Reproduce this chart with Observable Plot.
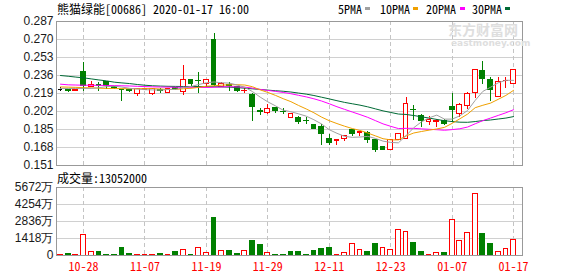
<!DOCTYPE html>
<html><head><meta charset="utf-8">
<script src="https://cdn.jsdelivr.net/npm/d3@7"></script>
<script src="https://cdn.jsdelivr.net/npm/@observablehq/plot@0.6"></script>
<style>
body{margin:0;background:#fff;}
#wrap{position:relative;width:578px;height:276px;overflow:hidden;background:#fff;}
.t{position:absolute;font-family:"Noto Sans Mono CJK SC","Liberation Mono",monospace;font-size:12px;line-height:12px;color:#000;white-space:nowrap;}
.sw{position:absolute;width:5px;height:3px;}
.wm{position:absolute;color:#dedede;font-weight:bold;white-space:nowrap;font-family:"Noto Sans CJK SC",sans-serif;}
svg{position:absolute;left:0;}
</style></head><body><div id="wrap"></div><script>
const dates = ["10-23","10-24","10-25","10-28","10-29","10-30","10-31","11-01","11-04","11-05","11-06","11-07","11-08","11-11","11-12","11-13","11-14","11-15","11-18","11-19","11-20","11-21","11-22","11-25","11-26","11-27","11-28","11-29","12-02","12-03","12-04","12-05","12-06","12-09","12-10","12-11","12-12","12-13","12-16","12-17","12-18","12-19","12-20","12-23","12-24","12-27","12-30","12-31","01-02","01-03","01-06","01-07","01-08","01-09","01-10","01-13","01-14","01-15","01-16","01-17"];
const open  = [.223,.2225,.2215,.239,.2248,.227,.230,.2255,.2225,.2225,.219,.2225,.219,.2222,.2198,.224,.2205,.232,.231,.2284,.270,.225,.2275,.2247,.221,.2175,.2025,.2007,.2054,.2018,.1955,.1955,.1932,.1897,.1875,.1765,.1745,.1757,.185,.182,.182,.175,.1685,.166,.175,.1757,.2035,.1975,.1918,.1918,.193,.2065,.200,.207,.2195,.2405,.2315,.216,.2305,.228];
const high  = [.2245,.2225,.2225,.248,.230,.229,.230,.226,.223,.223,.223,.2235,.2233,.224,.224,.2245,.2457,.232,.239,.2325,.276,.229,.229,.225,.224,.219,.205,.209,.2055,.2045,.1995,.197,.1965,.1897,.1895,.180,.1752,.179,.185,.1825,.1835,.175,.1685,.175,.1805,.215,.2075,.199,.1975,.1945,.1945,.219,.210,.220,.2415,.249,.234,.2345,.2345,.241];
const low   = [.2205,.2195,.2215,.221,.2245,.221,.223,.223,.211,.220,.216,.222,.2174,.219,.219,.2215,.217,.226,.219,.225,.226,.2245,.2205,.220,.219,.193,.1985,.1995,.200,.1995,.195,.190,.190,.1855,.170,.170,.170,.1735,.1785,.178,.172,.163,.1655,.165,.175,.1757,.1935,.1865,.189,.1865,.189,.192,.196,.2035,.2145,.2275,.211,.216,.224,.228];
const close = [.223,.221,.2225,.226,.227,.2265,.226,.2245,.222,.221,.223,.223,.223,.2215,.2237,.223,.232,.2284,.2305,.2322,.2268,.228,.2265,.2215,.2215,.2065,.202,.2042,.2023,.2013,.1995,.1922,.1928,.1855,.181,.1725,.175,.1787,.181,.1825,.1755,.1655,.1655,.175,.1805,.2095,.203,.193,.194,.1935,.1905,.203,.2085,.219,.2415,.233,.2225,.2295,.231,.241];
const ma5  = [.2237,.2237,.2237,.2238,.2238,.2245,.2255,.2259,.2251,.2239,.2232,.2226,.2224,.2222,.2228,.2228,.2246,.2256,.2275,.2291,.2299,.2291,.2288,.227,.2249,.2208,.2156,.2111,.2073,.2032,.2018,.1998,.1976,.1942,.1902,.1848,.1814,.1785,.1776,.1779,.1785,.1766,.174,.1728,.1724,.1792,.1867,.1922,.196,.1986,.1948,.1948,.1979,.2029,.2125,.221,.2249,.2291,.2315,.2314];
const ma10 = [.2252,.2250,.2248,.2245,.2243,.2240,.2238,.2237,.2236,.2235,.2235,.2236,.2237,.2232,.2229,.2229,.2235,.2239,.2248,.2259,.2263,.2269,.2272,.2273,.2270,.2254,.2224,.2200,.2172,.2141,.2113,.2077,.2044,.2008,.1967,.1933,.1906,.1881,.1859,.1841,.1817,.1790,.1763,.1752,.1752,.1789,.1817,.1831,.1844,.1855,.1870,.1908,.1951,.1995,.2056,.2079,.2099,.2135,.2172,.2220];
const ma20 = [.2278,.2272,.2270,.2268,.2268,.2267,.2266,.2265,.2263,.2261,.2258,.2255,.2253,.2251,.2250,.2249,.2249,.2248,.2247,.2247,.2249,.2252,.2255,.2252,.2250,.2241,.2229,.2219,.2210,.2200,.2188,.2173,.2158,.2140,.2119,.2093,.2065,.2040,.2015,.1991,.1965,.1934,.1903,.1880,.1859,.1861,.1861,.1856,.1852,.1848,.1843,.1849,.1857,.1873,.1904,.1934,.1958,.1983,.2008,.2037];
const ma30 = [.2360,.2353,.2345,.2338,.2328,.2318,.2309,.2297,.2290,.2284,.2275,.2268,.2263,.2260,.2258,.2257,.2256,.2256,.2256,.2255,.2254,.2252,.2250,.2246,.2240,.2234,.2228,.2222,.2216,.2211,.2204,.2194,.2184,.2171,.2155,.2139,.2122,.2106,.2093,.2080,.2064,.2045,.2026,.2011,.1996,.1992,.1982,.1970,.1958,.1945,.1933,.1925,.1919,.1918,.1925,.1934,.1940,.1949,.1958,.1972];
// volume in 万 shares; 1 = up (red hollow), 0 = down (green)
const vol = [54,134,54,1695,323,323,81,81,646,161,54,54,54,161,54,323,484,81,619,242,3147,404,404,161,404,1210,888,242,81,81,323,323,81,404,565,646,54,242,968,484,323,968,633,457,2152,1991,1049,323,54,215,242,2959,1184,1910,5138,1775,968,296,538,1305.2];
const volUp = [1,0,1,1,1,0,0,0,0,0, 1,1,1,0,1,0,1,0,1,1, 0,1,0,0,1,0,0,1,0,0, 0,0,0,0,0,0,1,1,1,1, 0,0,1,1,1,1,0,0,1,1, 0,1,1,1,1,0,0,1,1,1];
const xTickLabels = ["10-28","11-07","11-19","11-29","12-11","12-23","01-07","01-17"];
const priceTicks = [0.151,0.168,0.185,0.202,0.219,0.236,0.253,0.270,0.287];
const volTicks = [0,1418,2836,4254,5672];
const maNames = ["5PMA","10PMA","20PMA","30PMA"];
const maColors = ["#a0a0a0","#f0a000","#ff00ff","#006a35"];

const RED = "#ff0000", GREEN = "#008000";
const idx = d3.range(dates.length);
const candles = idx.map(i => ({i, o: open[i], h: high[i], l: low[i], c: close[i]}));
const col = d => d.c > d.o ? RED : d.c < d.o ? GREEN : "#000";
const tickIdx = xTickLabels.map(t => dates.indexOf(t));
const xDomain = [-0.52, 60.16];
const W = 0.31;
const lineData = [ma5, ma10, ma20, ma30].map((arr, k) => idx.map(i => ({i, v: arr[i], k})));
const tickFont = "Liberation Sans, Arial, sans-serif";

const price = Plot.plot({
  width: 578, height: 168, marginTop: 21, marginBottom: 3, marginLeft: 56, marginRight: 56,
  x: {domain: xDomain, axis: null},
  y: {domain: [0.151, 0.287], axis: null},
  style: {background: "transparent", overflow: "visible", fontFamily: tickFont, fontSize: "12px"},
  marks: [
    Plot.ruleY(priceTicks, {stroke: "#d0d0d0", shapeRendering: "crispEdges"}),
    Plot.ruleX(tickIdx, {stroke: "#c4c4c4", strokeDasharray: "4,3", shapeRendering: "crispEdges"}),
    Plot.ruleX(candles, {x: "i", y1: "l", y2: "h", stroke: col, shapeRendering: "crispEdges"}),
    Plot.rect(candles.filter(d => d.o !== d.c), {x1: d => d.i - W, x2: d => d.i + W, y1: d => Math.min(d.o, d.c), y2: d => Math.max(d.o, d.c), fill: d => d.c > d.o ? "#fff" : GREEN, stroke: col, shapeRendering: "crispEdges"}),
    Plot.ruleY(candles.filter(d => d.o === d.c), {y: "c", x1: d => d.i - W, x2: d => d.i + W, stroke: "#000", shapeRendering: "crispEdges"}),
    ...lineData.slice().reverse().map(ld => Plot.line(ld, {x: "i", y: "v", stroke: maColors[ld[0].k], strokeWidth: 1})),
    Plot.frame({stroke: "#999", shapeRendering: "crispEdges"}),
    Plot.text(priceTicks, {y: d => d, text: d => d.toFixed(3), frameAnchor: "left", textAnchor: "end", dx: -3, fill: "#1a1a1a"})
  ]
});
price.style.top = "0px";

const bars = idx.map(i => ({i, v: vol[i], up: volUp[i]}));
const volume = Plot.plot({
  width: 578, height: 108, marginTop: 19, marginBottom: 21, marginLeft: 56, marginRight: 56,
  x: {domain: xDomain, axis: null},
  y: {domain: [0, 5672], axis: null},
  style: {background: "transparent", overflow: "visible", fontFamily: tickFont, fontSize: "12px"},
  marks: [
    Plot.ruleY(volTicks.slice(1, -1), {stroke: "#d0d0d0", shapeRendering: "crispEdges"}),
    Plot.ruleX(tickIdx, {stroke: "#c4c4c4", strokeDasharray: "4,3", shapeRendering: "crispEdges"}),
    Plot.rect(bars, {x1: d => d.i - W, x2: d => d.i + W, y1: 0, y2: "v", fill: d => d.up ? "#fff" : GREEN, stroke: d => d.up ? RED : GREEN, shapeRendering: "crispEdges"}),
    Plot.frame({stroke: "#999", shapeRendering: "crispEdges"}),
    Plot.text(volTicks, {y: d => d, text: d => d === 0 ? "0" : d + "万", frameAnchor: "left", textAnchor: "end", dx: -3, fill: "#1a1a1a"}),
    Plot.text(tickIdx.map((t, k) => ({t, label: xTickLabels[k]})), {x: "t", y: 0, text: "label", dy: 12, fill: RED, fontFamily: "Noto Sans Mono CJK SC, Liberation Mono, monospace", fontSize: 12})
  ]
});
volume.style.top = "168px";

const wrap = document.getElementById("wrap");
wrap.appendChild(price);
wrap.appendChild(volume);

function addText(cls, txt, left, top, extra) {
  const d = document.createElement("div");
  d.className = cls; d.textContent = txt;
  d.style.left = left + "px"; d.style.top = top + "px";
  if (extra) Object.assign(d.style, extra);
  wrap.appendChild(d);
  return d;
}
addText("wm", "东方财富网", 448, 22, {fontSize: "14px", lineHeight: "15px"});
addText("wm", "eastmoney.com", 451, 39, {fontSize: "9px", lineHeight: "9px", fontFamily: "DejaVu Sans, sans-serif"});
addText("t", "熊猫绿能[00686] 2020-01-17 16:00", 57, 3);
const legX = [338, 380, 426, 472], swX = [365, 413, 460, 505];
maNames.forEach((n, k) => {
  addText("t", n, legX[k], 3);
  const s = document.createElement("div");
  s.className = "sw"; s.style.left = swX[k] + "px"; s.style.top = "7px"; s.style.background = maColors[k];
  wrap.appendChild(s);
});
addText("t", "成交量:" + Math.round(vol[vol.length - 1] * 10000), 57, 172);
</script></body></html>
